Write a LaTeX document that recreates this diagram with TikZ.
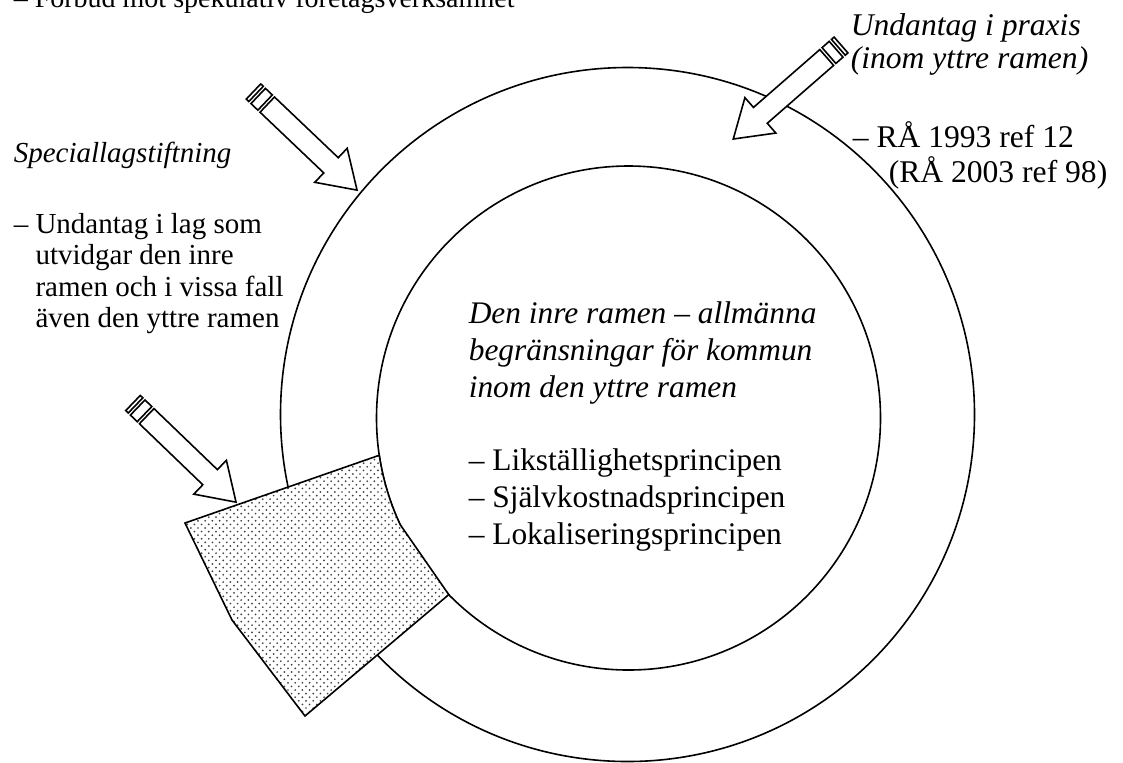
\documentclass[tikz,border=0pt]{standalone}
\usepackage{fontspec}
\setmainfont{Liberation Serif}
\usetikzlibrary{patterns.meta}

% dotted fill of the special legislation patch
\tikzdeclarepattern{
  name=patchdots,
  type=uncolored,
  bottom left={(-0.6pt,-0.6pt)},
  top right={(3.0pt,3.0pt)},
  tile size={(3.6pt,3.6pt)},
  code={
    \pgfpathcircle{\pgfpoint{0pt}{0pt}}{0.48pt}
    \pgfpathcircle{\pgfpoint{1.8pt}{1.8pt}}{0.48pt}
    \pgfusepath{fill}
  }
}

\newcommand\ringsize{\fontsize{15.7pt}{18.4pt}\selectfont}
\newcommand\sidesize{\fontsize{14.5pt}{15.75pt}\selectfont}

\begin{document}
\begin{tikzpicture}[
    x=0.5pt, y=-0.5pt,
    line width=0.8pt,
    txt/.style={anchor=base west, align=left, inner sep=0pt, font=\ringsize},
    sidetxt/.style={txt, font=\sidesize},
    patch/.style={draw, preaction={fill=white}, pattern=patchdots, pattern color=black!75},
    pics/striparrow/.style={code={
      \filldraw[fill=white] (0,-10.5) rectangle (3.5,10.5);
      \filldraw[fill=white] (6.5,-10.5) rectangle (16,10.5);
      \filldraw[fill=white] (19,-10.5) -- (107,-10.5) -- (107,-23.5) -- (143,0)
        -- (107,23.5) -- (107,10.5) -- (19,10.5) -- cycle;
    }}
  ]
  \useasboundingbox (0,0) rectangle (1123,762);
  \clip (0,0) rectangle (1123,762);

  % the two frames
  \coordinate (outerc) at (627.5,414.5);
  \coordinate (innerc) at (628.5,418);
  \draw (outerc) circle[radius=347];
  \draw (innerc) circle[radius=252];

  % special legislation patch
  \path[patch] (185,523) -- ([shift={(171.5:252)}]innerc)
    arc[start angle=171.5, end angle=155, radius=252]
    -- ([shift={(135.5:252)}]innerc) -- (305,716) -- (232,620) -- cycle;

  % striped arrows
  \pic[rotate=-43.6] at (253.5,91.5) {striparrow};
  \pic[rotate=-138.9] at (841,45) {striparrow};
  \pic[rotate=-43.9] at (133,403) {striparrow};

  % left column
  \node[sidetxt, font=\fontsize{14pt}{15.5pt}\selectfont] (topnote) at (13,7) {– Förbud mot spekulativ företagsverksamhet};
  \node[sidetxt, font=\sidesize\itshape] (speclabel) at (13,162) {Speciallagstiftning};
  \node[sidetxt] (speclist) at (13,327.5) {– Undantag i lag som\\\hphantom{– }utvidgar den inre\\\hphantom{– }ramen och i vissa fall\\\hphantom{– }även den yttre ramen};

  % right column
  \node[txt, font=\fontsize{15.8pt}{16.5pt}\selectfont\itshape] (praxislabel) at (850,68) {Undantag i praxis\\(inom yttre ramen)};
  \node[txt, font=\fontsize{15.8pt}{17.5pt}\selectfont] (praxisref) at (852,182) {– RÅ 1993 ref 12\\\hspace*{18pt}(RÅ 2003 ref 98)};

  % inside the inner frame
  \node[txt, font=\ringsize\itshape] (innertitle) at (468,397) {Den inre ramen – allmänna\\begränsningar för kommun\\inom den yttre ramen};
  \node[txt] (innerlist) at (468,544) {– Likställighetsprincipen\\– Självkostnadsprincipen\\– Lokaliseringsprincipen};
\end{tikzpicture}
\end{document}
